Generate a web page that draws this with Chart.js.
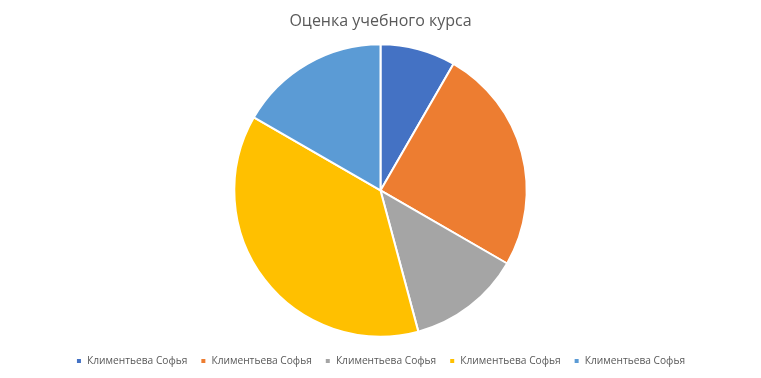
<!DOCTYPE html>
<html>
<head>
<meta charset="utf-8">
<script src="https://cdn.jsdelivr.net/npm/chart.js@4"></script>
<style>
  html, body { margin: 0; padding: 0; background: #fff; }
  #wrap { width: 761px; height: 378px; }
</style>
</head>
<body>
<div id="wrap"><canvas id="pieChart"></canvas></div>
<script>
const labels = ['Климентьева Софья', 'Климентьева Софья', 'Климентьева Софья', 'Климентьева Софья', 'Климентьева Софья'];
const values = [2, 6, 3, 9, 4];
const colors = ['#4472C4', '#ED7D31', '#A5A5A5', '#FFC000', '#5B9BD5'];

const ctx = document.getElementById('pieChart').getContext('2d');

new Chart(ctx, {
  type: 'pie',
  data: {
    labels,
    datasets: [{
      data: values,
      backgroundColor: colors,
      borderColor: '#fff',
      borderWidth: 2
    }]
  },
  options: {
    responsive: true,
    maintainAspectRatio: false,
    animation: false,
    layout: { padding: { top: 0, bottom: 2 } },
    plugins: {
      title: {
        display: true,
        text: 'Оценка учебного курса',
        color: '#595959',
        font: { family: 'Open Sans', size: 16, weight: 'normal' },
        padding: { top: 12, bottom: 12 }
      },
      legend: {
        position: 'bottom',
        // empty legend title, only used as a gap above the items
        title: { display: true, text: ' ', font: { size: 1 }, padding: 2 },
        labels: {
          color: '#595959',
          font: { family: 'Open Sans', size: 10.2 },
          boxWidth: 6,
          boxHeight: 6,
          padding: 13
        }
      },
      tooltip: { enabled: false }
    }
  }
});
</script>
</body>
</html>
